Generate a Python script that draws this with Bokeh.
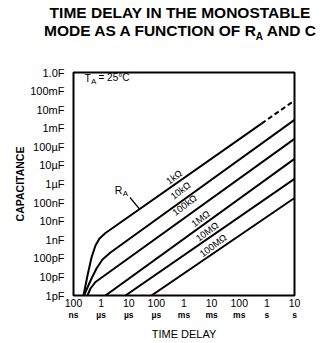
import math
from bokeh.plotting import figure
from bokeh.layouts import column
from bokeh.models import Range1d, LogAxis, FixedTicker, CustomJSTickFormatter, Label, Div
from bokeh.embed import file_html
from bokeh.resources import INLINE

# ---------------- data ----------------
time_ticks = [1e-7, 1e-6, 1e-5, 1e-4, 1e-3, 1e-2, 1e-1, 1, 10]
time_tick_numbers = ["100", "1", "10", "100", "1", "10", "100", "1", "10"]
time_tick_units = ["ns", "\u00b5s", "\u00b5s", "\u00b5s", "ms", "ms", "ms", "s", "s"]

cap_ticks = [1e-12, 1e-11, 1e-10, 1e-9, 1e-8, 1e-7, 1e-6, 1e-5, 1e-4, 1e-3, 1e-2, 1e-1, 1]
cap_tick_labels = ["1pF", "10pF", "100pF", "1nF", "10nF", "100nF", "1\u00b5F", "10\u00b5F",
                   "100\u00b5F", "1mF", "10mF", "100mF", "1.0F"]

resistor_labels = ["1k\u03a9", "10k\u03a9", "100k\u03a9", "1M\u03a9", "10M\u03a9", "100M\u03a9"]

# time delay (s) / capacitance (F) along each R_A curve
t_1k = [2.30e-7, 3.21e-7, 4.49e-7, 6.25e-7, 8.73e-7, 1.44e-6, 0.638]
c_1k = [1e-12, 1.19e-11, 1.11e-10, 4.91e-10, 1.17e-9, 2.31e-9, 1.78e-3]
t_1k_ext = [0.638, 10]            # dashed extension
c_1k_ext = [1.78e-3, 3.11e-2]

t_10k = [2.40e-7, 3.21e-7, 4.49e-7, 6.81e-7, 1.12e-6, 2.18e-6, 10]
c_10k = [1e-12, 2.69e-12, 8.22e-12, 2.84e-11, 8.65e-11, 2.06e-10, 2.85e-3]

t_100k = [3.21e-7, 4.12e-7, 6.25e-7, 10]
c_100k = [1e-12, 2.38e-12, 5.32e-12, 2.70e-4]

t_1M = [1.44e-6, 10]
c_1M = [1e-12, 2.27e-5]

t_10M = [7.62e-6, 10]
c_10M = [1e-12, 1.91e-6]

t_100M = [6.67e-5, 10]
c_100M = [1e-12, 1.77e-7]

series_t = [t_1k, t_10k, t_100k, t_1M, t_10M, t_100M]
series_c = [c_1k, c_10k, c_100k, c_1M, c_10M, c_100M]

# ---------------- layout ----------------
X0, X1 = 1e-7, 10.0
Y0, Y1 = 1e-12, 1.0
TITLE_H = 44
FL, FT, FW, FH = 73, 72 - TITLE_H, 221, 223   # frame position/size inside the figure (px)
FR, FB = 32, 44
FIG_W = FL + FW + FR


def pos(px, py):
    """page pixel -> data coordinates (for annotation placement)"""
    fx = (px - FL) / FW
    fy = (py - (TITLE_H + FT)) / FH
    lx = math.log10(X0) + fx * (math.log10(X1) - math.log10(X0))
    ly = math.log10(Y1) - fy * (math.log10(Y1) - math.log10(Y0))
    return 10 ** lx, 10 ** ly


p = figure(x_axis_type="log", y_axis_type="log",
           x_range=Range1d(X0, X1), y_range=Range1d(Y0, Y1),
           frame_width=FW, frame_height=FH,
           min_border_left=FL, min_border_top=FT, min_border_right=FR, min_border_bottom=FB,
           output_backend="svg", toolbar_location=None)

p.grid.visible = False
p.background_fill_color = "white"
p.border_fill_color = "white"
p.outline_line_color = "black"
p.outline_line_width = 2
p.outline_line_alpha = 1.0

FONT = "Liberation Sans"

# y axis
ya = p.yaxis[0]
ya.ticker = FixedTicker(ticks=cap_ticks)
ya.formatter = CustomJSTickFormatter(args=dict(labels=cap_tick_labels, lo=-12),
                                     code="return labels[Math.round(Math.log10(tick)) - lo];")
ya.axis_line_color = None
ya.major_tick_line_color = None
ya.minor_tick_line_color = None
ya.major_tick_out = 0
ya.major_tick_in = 0
ya.minor_tick_out = 0
ya.major_label_standoff = 9
ya.major_label_text_font = FONT
ya.major_label_text_font_size = "11px"
ya.major_label_text_color = "black"
ya.axis_label = "CAPACITANCE"
ya.axis_label_text_font = FONT
ya.axis_label_text_font_style = "bold"
ya.axis_label_text_font_size = "10.5px"
ya.axis_label_text_color = "black"
ya.axis_label_standoff = 1

# x axis (numbers)
xa = p.xaxis[0]
xa.ticker = FixedTicker(ticks=time_ticks)
xa.formatter = CustomJSTickFormatter(args=dict(labels=time_tick_numbers, lo=-7),
                                     code="return labels[Math.round(Math.log10(tick)) - lo];")
xa.axis_line_color = None
xa.major_tick_line_color = None
xa.minor_tick_line_color = None
xa.major_tick_out = 0
xa.major_tick_in = 0
xa.minor_tick_out = 0
xa.major_label_standoff = 3
xa.major_label_text_font = FONT
xa.major_label_text_font_size = "10.5px"
xa.major_label_text_color = "black"

# x axis (units line)
xu = LogAxis(ticker=FixedTicker(ticks=time_ticks),
             formatter=CustomJSTickFormatter(args=dict(labels=time_tick_units, lo=-7),
                                             code="return labels[Math.round(Math.log10(tick)) - lo];"))
xu.axis_line_color = None
xu.major_tick_line_color = None
xu.minor_tick_line_color = None
xu.major_tick_out = 0
xu.major_tick_in = 0
xu.minor_tick_out = 0
xu.major_label_standoff = 0
xu.major_label_text_font = FONT
xu.major_label_text_font_style = "bold"
xu.major_label_text_font_size = "8.5px"
xu.major_label_text_color = "black"
xu.axis_label = "TIME DELAY"
xu.axis_label_text_font = FONT
xu.axis_label_text_font_style = "normal"
xu.axis_label_text_font_size = "11px"
xu.axis_label_text_color = "black"
xu.axis_label_standoff = 5
p.add_layout(xu, "below")

# curves
for ts, cs in zip(series_t, series_c):
    p.line(ts, cs, line_color="black", line_width=2)
p.line(t_1k_ext, c_1k_ext, line_color="black", line_width=2, line_dash="5 3")

# resistor labels along the curves
label_px = [(173.5, 176.5), (180, 190), (184, 204.5), (200, 218), (206.5, 231), (212.5, 245)]
for txt, (lx, ly) in zip(resistor_labels, label_px):
    x, y = pos(lx, ly)
    p.add_layout(Label(x=x, y=y, text=txt, angle=37, angle_units="deg",
                       text_align="center", text_baseline="middle",
                       text_font=FONT, text_font_size="9.5px", text_color="black"))

# R_A label with leader
x, y = pos(118, 189)
p.add_layout(Label(x=x, y=y, text="R", text_align="center", text_baseline="middle",
                   text_font=FONT, text_font_size="10.5px", text_color="black"))
x, y = pos(125, 193)
p.add_layout(Label(x=x, y=y, text="A", text_align="center", text_baseline="middle",
                   text_font=FONT, text_font_size="8px", text_color="black"))
lead = [pos(129.5, 197), pos(134, 202.5), pos(139, 208.5)]
p.line([a for a, b in lead], [b for a, b in lead], line_color="black", line_width=1.2)

# T_A = 25°C
x, y = pos(84, 77)
p.add_layout(Label(x=x, y=y, text="T", text_align="left", text_baseline="middle",
                   text_font=FONT, text_font_size="10.5px", text_color="black"))
x, y = pos(90.5, 80.5)
p.add_layout(Label(x=x, y=y, text="A", text_align="left", text_baseline="middle",
                   text_font=FONT, text_font_size="8px", text_color="black"))
x, y = pos(98, 77)
p.add_layout(Label(x=x, y=y, text="= 25\u00b0C", text_align="left", text_baseline="middle",
                   text_font=FONT, text_font_size="10px", text_color="black"))

# title (two lines, subscript A)
title = Div(
    text=("<div style=\"font-family:'Liberation Sans',Arial,sans-serif;font-weight:bold;"
          "font-size:15.5px;line-height:18px;text-align:center;color:black;white-space:nowrap;"
          "padding-top:4px;padding-left:44px;\">"
          "TIME DELAY IN THE MONOSTABLE<br>"
          "MODE AS A FUNCTION OF R<span style=\"font-size:10px;position:relative;top:4px;\">A</span>"
          " AND C</div>"),
    width=FIG_W, height=TITLE_H, margin=(0, 0, 0, 0))

layout = column(title, p, spacing=0)
open("out.html", "w").write(file_html(layout, INLINE))
